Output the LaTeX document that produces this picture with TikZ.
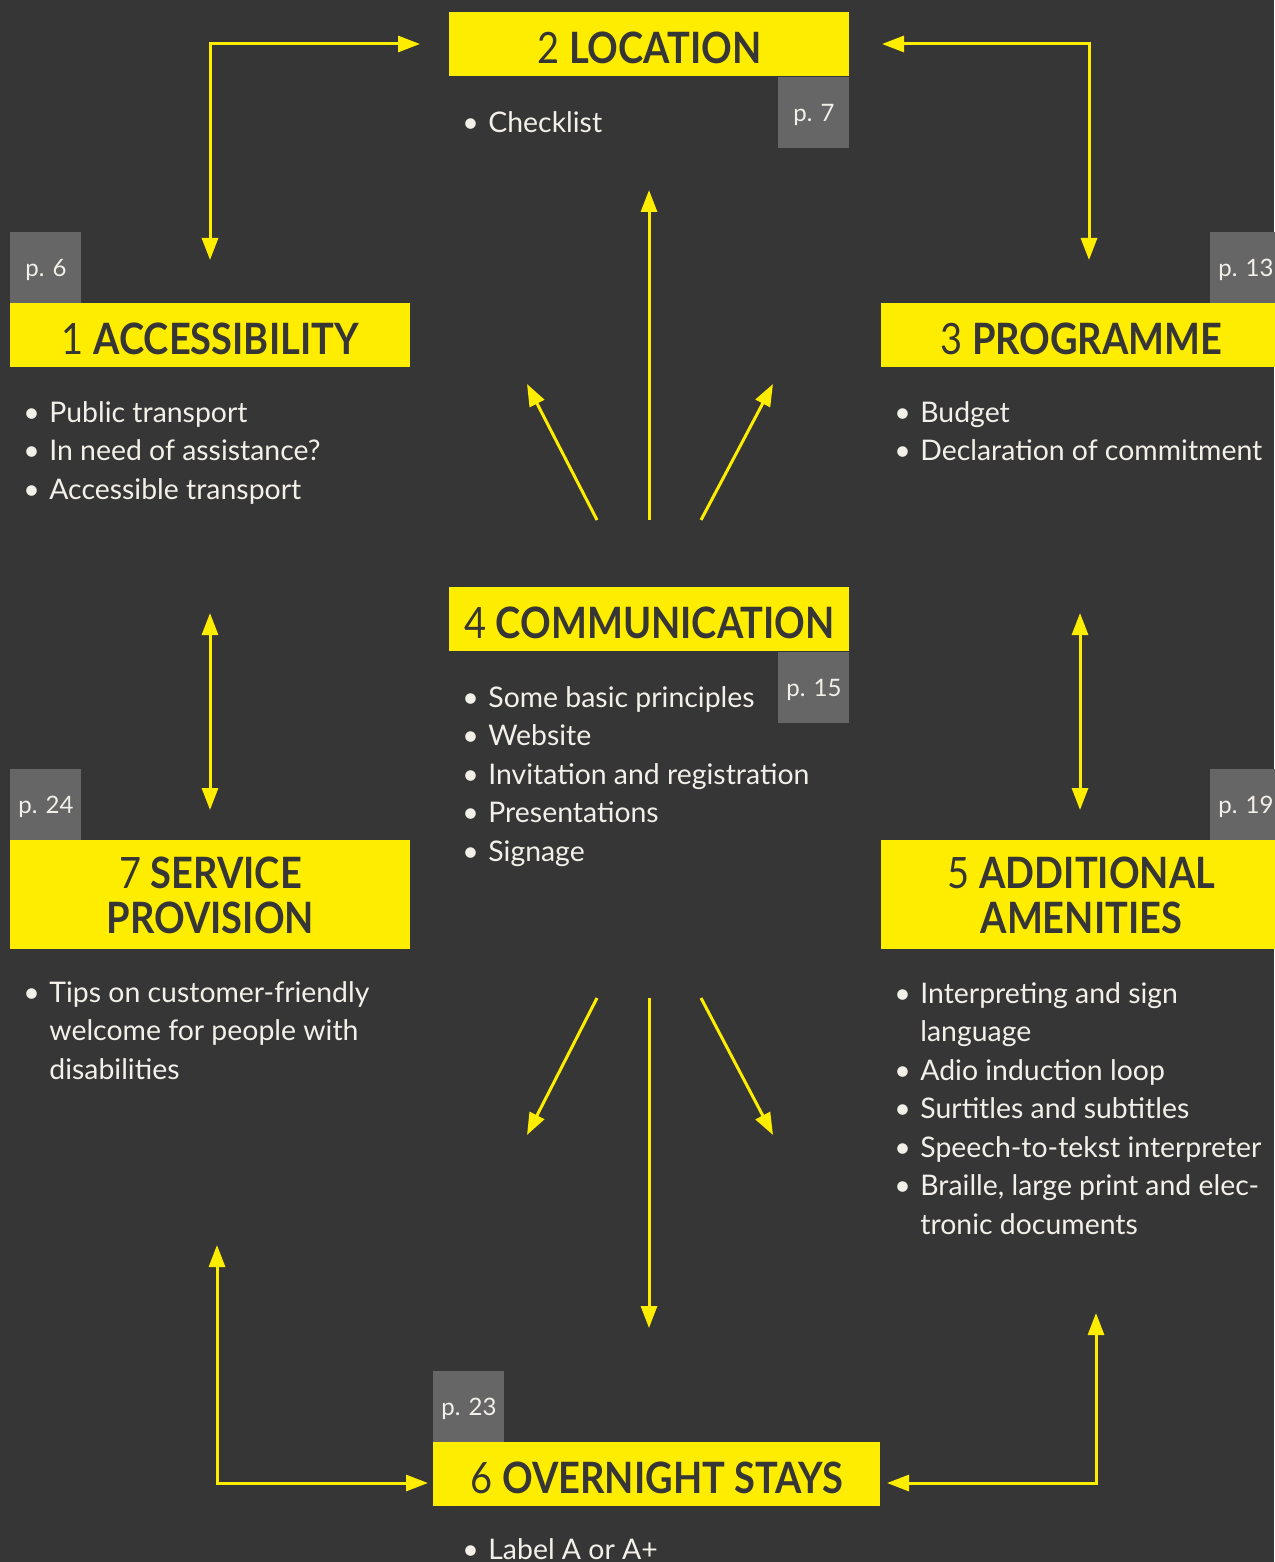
\documentclass[tikz,border=0pt]{standalone}
\usepackage{fontspec}
\setmainfont{Lato}
\newfontfamily\headfont[FakeStretch=0.88]{Lato}
\usetikzlibrary{arrows.meta,positioning}
\definecolor{bg}{HTML}{363636}
\definecolor{ylw}{HTML}{FFED00}
\definecolor{pgray}{HTML}{666666}
\definecolor{txt}{HTML}{F2F0E8}
\tikzset{
  heading/.style  = {fill=ylw, text=bg, anchor=north west, inner sep=0pt,
                     minimum width=200pt, minimum height=32pt, align=center,
                     font=\headfont\fontsize{21.6}{22.5}\selectfont},
  oneline/.style  = {text height=19pt, text depth=0pt},
  pagebox/.style  = {fill=pgray, text=txt, minimum size=35.5pt, inner sep=0pt,
                     text height=9pt, text depth=0pt, font=\fontsize{12}{14}\selectfont},
  items/.style    = {anchor=base west, inner sep=0pt, text=txt,
                     font=\fontsize{14.2}{19.25}\selectfont},
  link/.style     = {draw=ylw, line width=1.5pt, -{Triangle[length=11pt,width=8pt]}},
  dlink/.style    = {draw=ylw, line width=1.5pt,
                     {Triangle[length=11pt,width=8pt]}-{Triangle[length=11pt,width=8pt]}}
}
\begin{document}
\begin{tikzpicture}[x=0.5pt,y=-0.5pt]
  \useasboundingbox (0,0) rectangle (1274,1562);
  \fill[bg] (0,0) rectangle (1274,1562);

  \node[heading,oneline] (loc)  at (449,12)  {2 \textbf{LOCATION}};
  \node[heading,oneline] (acc)  at (10,303)  {1 \textbf{ACCESSIBILITY}};
  \node[heading,oneline] (prog) at (881,303) {3 \textbf{PROGRAMME}};
  \node[heading,oneline] (comm) at (449,587) {4 \textbf{COMMUNICATION}};
  \node[heading,minimum height=54.5pt] (amen) at (881,840) {5 \textbf{ADDITIONAL}\\\textbf{AMENITIES}};
  \node[heading,minimum height=54.5pt] (serv) at (10,840)  {7 \textbf{SERVICE}\\\textbf{PROVISION}};
  \node[heading,oneline,minimum width=223.5pt] (over) at (433,1442) {6 \textbf{OVERNIGHT STAYS}};

  \node[pagebox] (p7)  [below left=0pt of loc.south east]   {p. 7};
  \node[pagebox] (p6)  [above right=0pt of acc.north west]  {p. 6};
  \node[pagebox] (p13) [above left=0pt of prog.north east]  {p. 13};
  \node[pagebox] (p15) [below left=0pt of comm.south east]  {p. 15};
  \node[pagebox] (p19) [above left=0pt of amen.north east]  {p. 19};
  \node[pagebox] (p24) [above right=0pt of serv.north west] {p. 24};
  \node[pagebox] (p23) [above right=0pt of over.north west] {p. 23};

  \node[items] (locl) at (462,133) {\begin{tabular}[t]{@{}p{13pt}@{}l@{}}
    \textbullet & Checklist
  \end{tabular}};
  \node[items] (accl) at (23,422) {\begin{tabular}[t]{@{}p{13pt}@{}l@{}}
    \textbullet & Public transport\\
    \textbullet & In need of assistance?\\
    \textbullet & Accessible transport
  \end{tabular}};
  \node[items] (progl) at (894,422) {\begin{tabular}[t]{@{}p{13pt}@{}l@{}}
    \textbullet & Budget\\
    \textbullet & Declaration of commitment
  \end{tabular}};
  \node[items] (comml) at (462,707) {\begin{tabular}[t]{@{}p{13pt}@{}l@{}}
    \textbullet & Some basic principles\\
    \textbullet & Website\\
    \textbullet & Invitation and registration\\
    \textbullet & Presentations\\
    \textbullet & Signage
  \end{tabular}};
  \node[items] (amenl) at (894,1003) {\begin{tabular}[t]{@{}p{13pt}@{}l@{}}
    \textbullet & Interpreting and sign\\
                & language\\
    \textbullet & Adio induction loop\\
    \textbullet & Surtitles and subtitles\\
    \textbullet & Speech-to-tekst interpreter\\
    \textbullet & Braille, large print and elec-\\
                & tronic documents
  \end{tabular}};
  \node[items] (servl) at (23,1002) {\begin{tabular}[t]{@{}p{13pt}@{}l@{}}
    \textbullet & Tips on customer-friendly\\
                & welcome for people with\\
                & disabilities
  \end{tabular}};
  \node[items] (overl) at (462,1559) {\begin{tabular}[t]{@{}p{13pt}@{}l@{}}
    \textbullet & Label A or A+
  \end{tabular}};

  \coordinate (a1) at (210,260);  \coordinate (a2) at (420,44);
  \coordinate (b1) at (882,44);   \coordinate (b2) at (1089,260);
  \coordinate (c0) at (649,520);  \coordinate (c1) at (649,190);
  \coordinate (l0) at (597,520);  \coordinate (l1) at (527,384);
  \coordinate (r0) at (701,520);  \coordinate (r1) at (773,384);
  \coordinate (d1) at (210,613);  \coordinate (d2) at (210,810);
  \coordinate (e1) at (1080,613); \coordinate (e2) at (1080,810);
  \coordinate (f0) at (649,998);  \coordinate (f1) at (649,1328);
  \coordinate (g0) at (597,998);  \coordinate (g1) at (527,1135);
  \coordinate (h0) at (701,998);  \coordinate (h1) at (773,1135);
  \coordinate (i1) at (217,1245); \coordinate (i2) at (428,1483);
  \coordinate (j1) at (1096,1313); \coordinate (j2) at (887,1483);

  \draw[dlink] (a1) |- (a2);
  \draw[dlink] (b1) -| (b2);
  \draw[link] (c0) -- (c1);
  \draw[link] (l0) -- (l1);
  \draw[link] (r0) -- (r1);
  \draw[dlink] (d1) -- (d2);
  \draw[dlink] (e1) -- (e2);
  \draw[link] (f0) -- (f1);
  \draw[link] (g0) -- (g1);
  \draw[link] (h0) -- (h1);
  \draw[dlink] (i1) |- (i2);
  \draw[dlink] (j1) |- (j2);
\end{tikzpicture}
\end{document}
